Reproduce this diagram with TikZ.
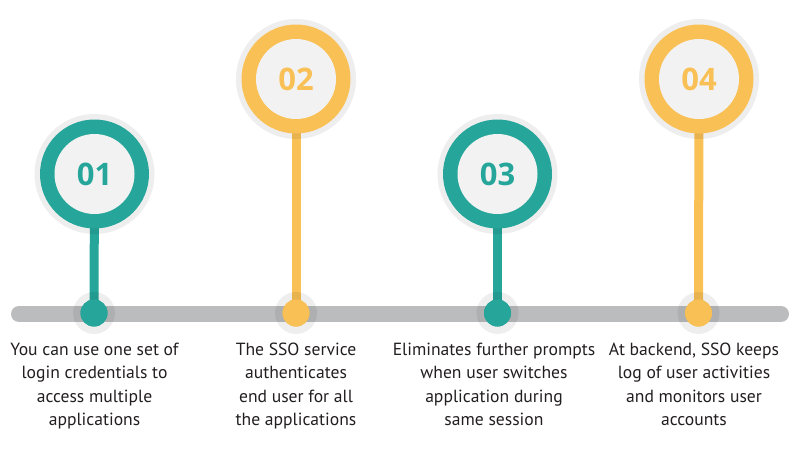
\documentclass[tikz,border=0pt]{standalone}
\usepackage{fontspec}
\setmainfont{PT Sans}
\newfontfamily\numfont{Open Sans}
\definecolor{teal1}{HTML}{26A69A}
\definecolor{gold1}{HTML}{F9C055}
\definecolor{innerg}{HTML}{F2F2F2}
\definecolor{barg}{HTML}{BBBCBE}
\definecolor{txt}{HTML}{231F20}
\begin{document}
\begin{tikzpicture}[x=1pt,y=-1pt,
  halo/.style={circle,fill=black,fill opacity=0.065,draw=none,minimum size=#1,inner sep=0pt},
  ring/.style={circle,fill=#1,draw=none,minimum size=109pt,inner sep=0pt},
  inner/.style={circle,fill=innerg,draw=none,minimum size=80pt,inner sep=0pt,font=\numfont\bfseries\fontsize{31}{31}\selectfont},
  dot/.style={circle,fill=#1,draw=none,minimum size=27pt,inner sep=0pt},
  stem/.style={line width=9pt,draw=#1},
  desc/.style={align=center,anchor=north,text=txt,font=\fontsize{17.6}{23.2}\selectfont,inner sep=0pt}]
\useasboundingbox (0,0) rectangle (800,450);
% timeline bar
\coordinate (L) at (19,314);
\coordinate (R) at (781,314);
\draw[barg,line width=16pt,line cap=round] (L) -- (R);
% circle centres and dots
\coordinate (c1) at (94.5,174);
\coordinate (c2) at (296,79);
\coordinate (c3) at (497.5,174);
\coordinate (c4) at (699,79);
\node[dot=teal1] (d1) at (94,313) {};
\node[dot=gold1] (d2) at (296,313) {};
\node[dot=teal1] (d3) at (497.5,313) {};
\node[dot=gold1] (d4) at (698.5,313) {};
% stems
\draw[stem=teal1] (c1) -- (d1.center);
\draw[stem=gold1] (c2) -- (d2.center);
\draw[stem=teal1] (c3) -- (d3.center);
\draw[stem=gold1] (c4) -- (d4.center);
% halos
\foreach \c in {c1,c2,c3,c4} \node[halo=120pt] at (\c) {};
\node[halo=42pt] (h1) at (d1) {};
\node[halo=42pt] (h2) at (d2) {};
\node[halo=42pt] (h3) at (d3) {};
\node[halo=42pt] (h4) at (d4) {};
% rings
\node[ring=teal1] (r1) at (c1) {};
\node[ring=gold1] (r2) at (c2) {};
\node[ring=teal1] (r3) at (c3) {};
\node[ring=gold1] (r4) at (c4) {};
\node[inner,text=teal1] (n1) at (c1) {01};
\node[inner,text=gold1] (n2) at (c2) {02};
\node[inner,text=teal1] (n3) at (c3) {03};
\node[inner,text=gold1] (n4) at (c4) {04};
% dots again on top
\node[dot=teal1] at (d1) {};
\node[dot=gold1] at (d2) {};
\node[dot=teal1] at (d3) {};
\node[dot=gold1] at (d4) {};
% descriptions
\node[desc] (t1) at (94.5,343) {You can use one set of\\login credentials to\\access multiple\\applications};
\node[desc] (t2) at (296,343) {The SSO service\\authenticates\\end user for all\\the applications};
\node[desc] (t3) at (494,343) {Eliminates further prompts\\when user switches\\application during\\same session};
\node[desc] (t4) at (694,343) {At backend, SSO keeps\\log of user activities\\and monitors user\\accounts};
\end{tikzpicture}
\end{document}
